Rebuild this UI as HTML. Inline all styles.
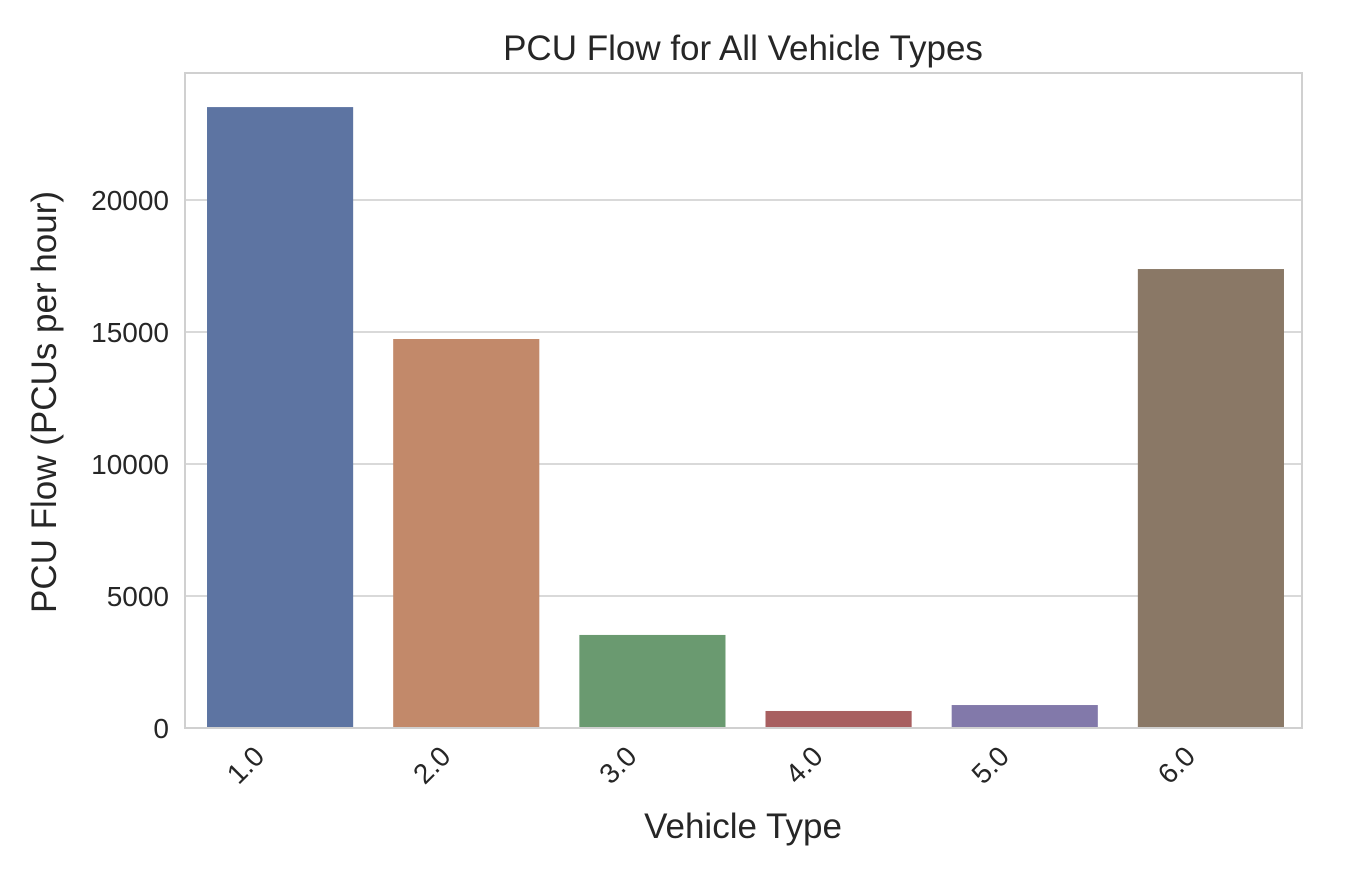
<!DOCTYPE html>
<html><head><meta charset="utf-8"><style>
body{margin:0;background:#fff;}
svg text{font-family:"Liberation Sans",sans-serif;fill:#262626;}
</style></head><body>
<svg id="chart" width="1368" height="872">
<text x="743" y="60" font-size="35" text-anchor="middle">PCU Flow for All Vehicle Types</text>
<g id="grid"></g>
<g id="bars"></g>
<rect x="185" y="73" width="1117" height="655" fill="none" stroke="#d0d0d0" stroke-width="2"/>
<g id="ticks"></g>
<text x="743" y="838" font-size="35" text-anchor="middle">Vehicle Type</text>
<text transform="translate(56,402) rotate(-90)" font-size="35" text-anchor="middle">PCU Flow (PCUs per hour)</text>
</svg>
<script>
const categories=["1.0","2.0","3.0","4.0","5.0","6.0"];
const values=[23520,14735,3525,645,870,17385];
const yTicks=[0,5000,10000,15000,20000];
const colors=["#5d74a2","#c2896a","#6a9a70","#a85f60","#8279aa","#8a7866"];
const L=185,R=1302,T=73,B=728,YMAX=24811;
const ns="http://www.w3.org/2000/svg";
const y=v=>B-(v/YMAX)*(B-T);
const band=(R-L)/categories.length;
const x=i=>L+band*i+band/2;
function mk(tag,attrs,parent){const e=document.createElementNS(ns,tag);for(const k in attrs)e.setAttribute(k,attrs[k]);document.getElementById(parent).appendChild(e);return e;}
yTicks.forEach(t=>{
  const g=mk("line",{x1:L,x2:R,y1:y(t),y2:y(t),stroke:"#d9d9d9","stroke-width":2},"grid");
  
  
  const l=mk("text",{x:L-16,y:y(t)+10,"font-size":28,"text-anchor":"end"},"ticks");
  l.textContent=t;
  
  
});
const bw=band*0.785;
values.forEach((v,i)=>{
  const r=mk("rect",{x:x(i)-bw/2+2,y:y(v),width:bw,height:B-y(v),fill:colors[i]},"bars");
  
  
  const l=mk("text",{transform:`translate(${x(i)-12},${B+30}) rotate(-45)`,"font-size":28,"text-anchor":"end"},"ticks");
  l.textContent=categories[i];
  
  
});
</script>
</body></html>
